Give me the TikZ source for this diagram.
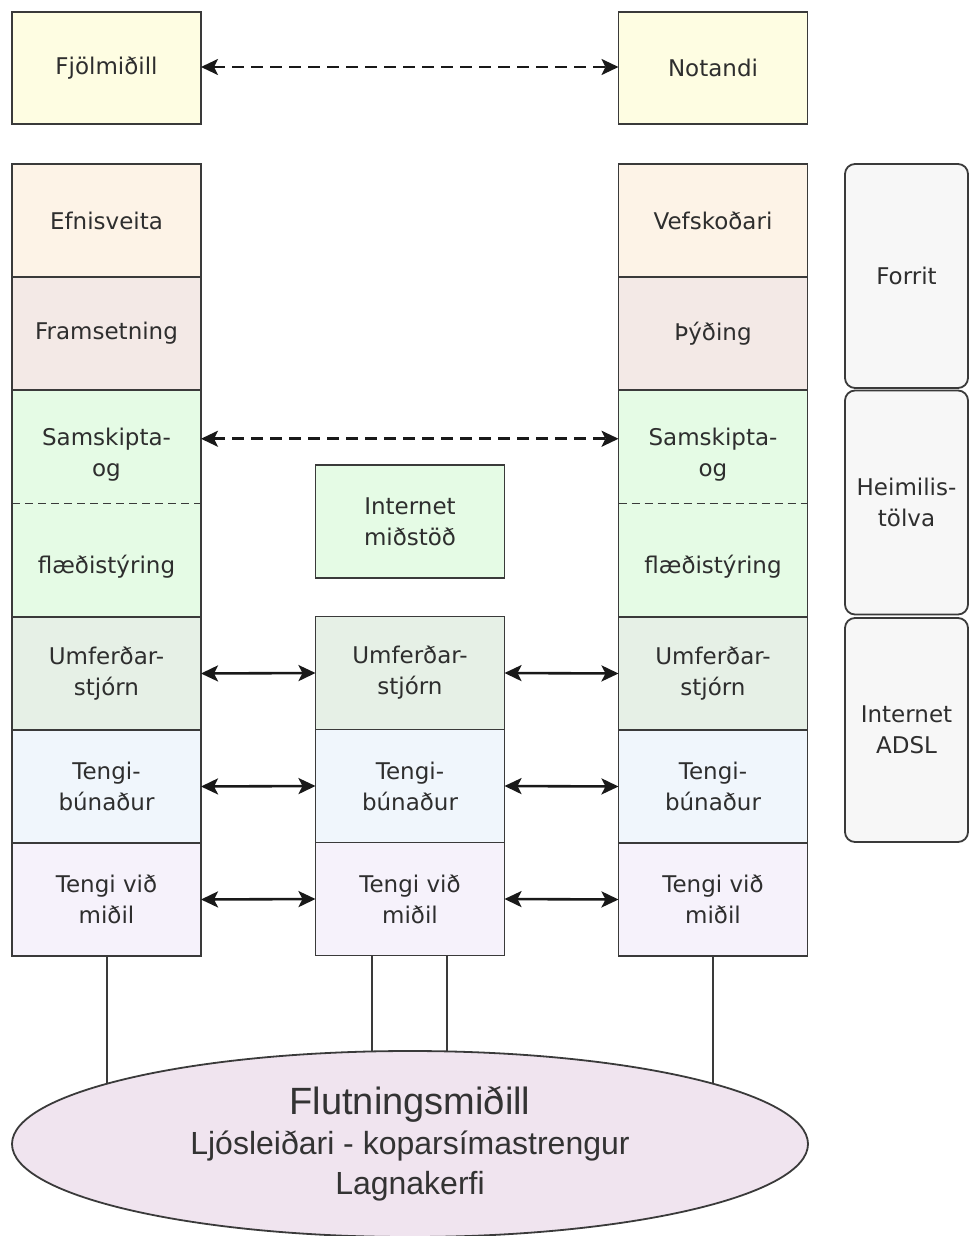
\documentclass[tikz,border=0pt]{standalone}
\usepackage{fontspec}
\setmainfont{DejaVu Sans}
\newfontfamily\arialfont{Liberation Sans}
\usetikzlibrary{positioning, arrows.meta, shapes.geometric, backgrounds}

\definecolor{linegray}{HTML}{3A3A3A}
\definecolor{textgray}{HTML}{2E2E2E}
\definecolor{userbox}{HTML}{FEFDE2}
\definecolor{appbox}{HTML}{FDF3E7}
\definecolor{presbox}{HTML}{F3E9E6}
\definecolor{sessbox}{HTML}{E5FBE5}
\definecolor{netbox}{HTML}{E6F0E6}
\definecolor{linkbox}{HTML}{F0F6FC}
\definecolor{physbox}{HTML}{F6F2FB}
\definecolor{sidebox}{HTML}{F7F7F7}
\definecolor{mediumfill}{HTML}{F0E4EF}

\tikzset{
  layer/.style={draw=linegray, line width=0.9pt, minimum width=94.5pt, minimum height=56.5pt,
    inner sep=0pt, outer sep=0pt, align=center, text=textgray, font=\fontsize{11.5}{15.5}\selectfont},
  half/.style={layer, draw=none, fill=sessbox, minimum height=56.75pt},
  halftext/.style={inner sep=0pt, align=center, text=textgray, font=\fontsize{11.5}{15.5}\selectfont},
  side/.style={draw=linegray, line width=0.9pt, fill=sidebox, rounded corners=5pt,
    minimum width=61.5pt, minimum height=112pt, inner sep=0pt, outer sep=0pt, align=center,
    text=textgray, font=\fontsize{11.5}{15.5}\selectfont},
  peer/.style={{Stealth[length=8.5pt,width=8pt,inset=2pt]}-{Stealth[length=8.5pt,width=8pt,inset=2pt]},
    line width=1.3pt, black!90},
  peerdash/.style={peer, dash pattern=on 6pt off 3.5pt},
  wire/.style={linegray, line width=1pt},
}

\begin{document}
\begin{tikzpicture}[x=0.5pt, y=-0.5pt]
  \useasboundingbox (0,0) rectangle (969,1236);

  % top row
  \node[layer, fill=userbox, minimum height=56pt] (fjolmidill) at (106.5,68) {Fjölmiðill};
  \node[layer, fill=userbox, minimum height=56pt] (notandi) at (713,68) {Notandi};
  \draw[peerdash] ([yshift=0.5pt]fjolmidill.east) -- ([yshift=0.5pt]notandi.west);

  % left stack
  \node[layer, fill=appbox] (appL) at (106.5,220.5) {Efnisveita};
  \node[layer, fill=presbox, below=0pt of appL] (presL) {Framsetning};
  \node[half, below=0pt of presL] (sessL1) {};
  \node[half, below=0pt of sessL1] (sessL2) {};
  \node[layer, fill=netbox, below=0pt of sessL2] (netL) {Umferðar-\\stjórn};
  \node[layer, fill=linkbox, below=0pt of netL] (linkL) {Tengi-\\búnaður};
  \node[layer, fill=physbox, below=0pt of linkL] (physL) {Tengi við\\miðil};
  \draw[linegray, line width=0.9pt] (sessL1.north west) rectangle (sessL2.south east);
  \draw[linegray, line width=0.7pt, dash pattern=on 4pt off 2.5pt] (sessL1.south west) -- (sessL1.south east);
  \node[halftext] (sessL1txt) at ([yshift=-4pt]sessL1.center) {Samskipta-\\og};
  \node[halftext] (sessL2txt) at ([yshift=-3pt]sessL2.center) {flæðistýring};

  % right stack
  \node[layer, fill=appbox] (appR) at (713,220.5) {Vefskoðari};
  \node[layer, fill=presbox, below=0pt of appR] (presR) {Þýðing};
  \node[half, below=0pt of presR] (sessR1) {};
  \node[half, below=0pt of sessR1] (sessR2) {};
  \node[layer, fill=netbox, below=0pt of sessR2] (netR) {Umferðar-\\stjórn};
  \node[layer, fill=linkbox, below=0pt of netR] (linkR) {Tengi-\\búnaður};
  \node[layer, fill=physbox, below=0pt of linkR] (physR) {Tengi við\\miðil};
  \draw[linegray, line width=0.9pt] (sessR1.north west) rectangle (sessR2.south east);
  \draw[linegray, line width=0.7pt, dash pattern=on 4pt off 2.5pt] (sessR1.south west) -- (sessR1.south east);
  \node[halftext] (sessR1txt) at ([yshift=-4pt]sessR1.center) {Samskipta-\\og};
  \node[halftext] (sessR2txt) at ([yshift=-3pt]sessR2.center) {flæðistýring};

  % middle: router
  \node[layer, fill=sessbox] (hubM) at (410,521.5) {Internet\\miðstöð};
  \node[layer, fill=netbox] (netM) at (410,673) {Umferðar-\\stjórn};
  \node[layer, fill=linkbox, below=0pt of netM] (linkM) {Tengi-\\búnaður};
  \node[layer, fill=physbox, below=0pt of linkM] (physM) {Tengi við\\miðil};

  \draw[peerdash] ([yshift=4pt]sessL1.east) -- ([yshift=4pt]sessR1.west);
  \draw[peer] (netL.east) -- (netM.west);
  \draw[peer] (netM.east) -- (netR.west);
  \draw[peer] (linkL.east) -- (linkM.west);
  \draw[peer] (linkM.east) -- (linkR.west);
  \draw[peer] (physL.east) -- (physM.west);
  \draw[peer] (physM.east) -- (physR.west);

  % side labels
  \node[side] (sideApp) at (906.5,276) {Forrit};
  \node[side] (sideHost) at (906.5,502.5) {Heimilis-\\tölva};
  \node[side] (sideNet) at (906.5,730) {Internet\\ADSL};

  % transmission medium
  \node[ellipse, draw=linegray, line width=0.9pt, fill=mediumfill, minimum width=398pt,
    minimum height=93pt, inner sep=0pt, align=center, text=black!80,
    font=\arialfont\fontsize{16}{20}\selectfont] (medium) at (410,1144)
    {{\fontsize{19}{20}\selectfont Flutningsmiðill}\\Ljósleiðari - koparsímastrengur\\Lagnakerfi};

  \begin{scope}[on background layer]
    \draw[wire] (physL.south) -- (physL.south |- medium.center);
    \draw[wire] ([xshift=-19pt]physM.south) -- ([xshift=-19pt]physM.south |- medium.center);
    \draw[wire] ([xshift=18.5pt]physM.south) -- ([xshift=18.5pt]physM.south |- medium.center);
    \draw[wire] (physR.south) -- (physR.south |- medium.center);
  \end{scope}
\end{tikzpicture}
\end{document}
